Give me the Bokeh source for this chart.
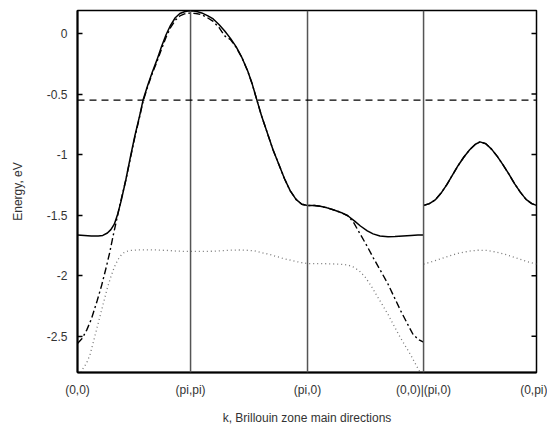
import numpy as np
from bokeh.plotting import figure
from bokeh.models import Span, FixedTicker, Range1d
from bokeh.embed import file_html
from bokeh.resources import INLINE

NAN = float("nan")

# High-symmetry points along the k-path
k_ticks = [0.0, 0.983, 2.0, 3.009, 3.991]
k_labels = ["(0,0)", "(pi,pi)", "(pi,0)", "(0,0)|(pi,0)", "(0,pi)"]
sep_lines = [0.983, 2.0, 3.009]

e_ticks = [0.0, -0.5, -1.0, -1.5, -2.0, -2.5]
e_labels = ["0", "-0.5", "-1", "-1.5", "-2", "-2.5"]

fermi_level = -0.55

# Band 1: solid
solid_k = [0.00, 0.06, 0.12, 0.18, 0.22, 0.26, 0.29, 0.32, 0.35, 0.38, 0.42, 0.46, 0.50, 0.54, 0.57,
           0.61, 0.65, 0.69, 0.73, 0.77, 0.81, 0.85, 0.89, 0.93, 0.96, 0.983,
           1.03, 1.08, 1.13, 1.18, 1.23, 1.28, 1.33, 1.38, 1.43, 1.48, 1.52, 1.56, 1.60, 1.65,
           1.70, 1.75, 1.80, 1.85, 1.90, 1.95, 2.00,
           2.06, 2.11, 2.17, 2.23, 2.29, 2.35, 2.41, 2.46, 2.52, 2.57, 2.63, 2.70, 2.76, 2.83,
           2.90, 2.96, 3.009, NAN,
           3.009, 3.06, 3.11, 3.16, 3.21, 3.26, 3.31, 3.36, 3.41, 3.46, 3.50, 3.55, 3.60, 3.65,
           3.70, 3.75, 3.80, 3.85, 3.90, 3.95, 3.991]
solid_e = [-1.665, -1.668, -1.672, -1.673, -1.668, -1.648, -1.62, -1.575, -1.49, -1.38, -1.21, -1.02,
           -0.84, -0.68, -0.55, -0.43, -0.32, -0.22, -0.11, -0.01, 0.07, 0.13, 0.165, 0.18, 0.186, 0.187,
           0.183, 0.17, 0.148, 0.12, 0.075, 0.02, -0.04, -0.11, -0.20, -0.31, -0.42, -0.55, -0.68, -0.82,
           -0.96, -1.08, -1.20, -1.30, -1.37, -1.41, -1.42,
           -1.421, -1.427, -1.44, -1.458, -1.478, -1.505, -1.55, -1.59, -1.63, -1.655, -1.672, -1.678,
           -1.676, -1.672, -1.668, -1.665, -1.664, NAN,
           -1.42, -1.405, -1.375, -1.32, -1.25, -1.17, -1.09, -1.02, -0.96, -0.915, -0.895, -0.91,
           -0.955, -1.015, -1.085, -1.16, -1.24, -1.31, -1.37, -1.405, -1.42]

# Band 2: dash-dot
dashed_k = [0.00, 0.04, 0.08, 0.12, 0.17, 0.21, 0.25, 0.28, 0.31, 0.34, 0.37, 0.38, 0.42, 0.46, 0.50,
            0.54, 0.57, 0.61, 0.65, 0.69, 0.73, 0.77, 0.81, 0.85, 0.89, 0.93, 0.96, 0.983,
            1.03, 1.08, 1.13, 1.18, 1.23, 1.28, 1.33, 1.38, 1.43, 1.48, 1.52, 1.56, 1.60, 1.65,
            1.70, 1.75, 1.80, 1.85, 1.90, 1.95, 2.00,
            2.06, 2.11, 2.17, 2.23, 2.29, 2.35, 2.40, 2.46, 2.52, 2.57, 2.63, 2.70, 2.76, 2.81,
            2.87, 2.92, 2.97, 3.009, NAN,
            3.009, 3.06, 3.11, 3.16, 3.21, 3.26, 3.31, 3.36, 3.41, 3.46, 3.50, 3.55, 3.60, 3.65,
            3.70, 3.75, 3.80, 3.85, 3.90, 3.95, 3.991]
dashed_e = [-2.56, -2.52, -2.45, -2.36, -2.21, -2.08, -1.93, -1.81, -1.67, -1.54, -1.41, -1.37, -1.21,
            -1.03, -0.85, -0.69, -0.56, -0.44, -0.33, -0.235, -0.13, -0.03, 0.05, 0.11, 0.145, 0.162,
            0.167, 0.168,
            0.165, 0.155, 0.13, 0.10, 0.05, -0.02, -0.05, -0.115, -0.20, -0.31, -0.42, -0.55, -0.68,
            -0.82, -0.96, -1.08, -1.20, -1.30, -1.37, -1.41, -1.42,
            -1.421, -1.427, -1.44, -1.458, -1.478, -1.505, -1.56, -1.66, -1.76, -1.85, -1.95, -2.07,
            -2.19, -2.29, -2.40, -2.49, -2.53, -2.55, NAN,
            -1.42, -1.405, -1.375, -1.32, -1.25, -1.17, -1.09, -1.02, -0.96, -0.915, -0.895, -0.91,
            -0.955, -1.015, -1.085, -1.16, -1.24, -1.31, -1.37, -1.405, -1.42]

# Band 3: dotted
dotted_k = [0.00, 0.04, 0.08, 0.11, 0.14, 0.17, 0.20, 0.23, 0.26, 0.29, 0.32, 0.35, 0.38, 0.41, 0.45,
            0.52, 0.60, 0.69, 0.78, 0.86, 0.93, 0.983,
            1.05, 1.12, 1.18, 1.25, 1.32, 1.40, 1.47, 1.54, 1.60, 1.67, 1.73, 1.78, 1.84, 1.90, 1.95, 2.00,
            2.07, 2.14, 2.21, 2.28, 2.35, 2.40, 2.45, 2.50, 2.55, 2.60, 2.65, 2.70, 2.75, 2.80, 2.85,
            2.90, 2.95, 3.009, NAN,
            3.009, 3.08, 3.16, 3.24, 3.32, 3.40, 3.48, 3.56, 3.64, 3.72, 3.80, 3.88, 3.94, 3.991]
dotted_e = [-2.86, -2.78, -2.72, -2.65, -2.54, -2.43, -2.32, -2.21, -2.10, -2.01, -1.93, -1.87, -1.83,
            -1.805, -1.793, -1.788, -1.787, -1.788, -1.792, -1.797, -1.80, -1.80,
            -1.80, -1.80, -1.798, -1.794, -1.79, -1.788, -1.79, -1.795, -1.81, -1.825, -1.842, -1.856,
            -1.87, -1.883, -1.893, -1.90,
            -1.90, -1.901, -1.903, -1.905, -1.912, -1.93, -1.96, -2.01, -2.08, -2.16, -2.24, -2.32,
            -2.41, -2.50, -2.58, -2.66, -2.75, -2.85, NAN,
            -1.905, -1.885, -1.86, -1.835, -1.813, -1.798, -1.79, -1.792, -1.805, -1.825, -1.85,
            -1.875, -1.893, -1.905]

FONT = "Liberation Sans"
TXT = "#333333"

p = figure(width=547, height=428, output_backend="svg", toolbar_location=None,
           x_range=Range1d(k_ticks[0], k_ticks[-1]), y_range=Range1d(-2.8, 0.19),
           min_border_left=77, min_border_right=11, min_border_top=10, min_border_bottom=56,
           x_axis_label="k, Brillouin zone main directions", y_axis_label="Energy, eV")

p.grid.visible = False
p.outline_line_color = "black"
p.outline_line_width = 1.5
p.background_fill_color = "white"
p.border_fill_color = "white"

# x axis
p.xaxis.ticker = FixedTicker(ticks=k_ticks)
p.xaxis.major_label_overrides = {k: lab for k, lab in zip(k_ticks, k_labels)}
p.xaxis.major_tick_in = 0
p.xaxis.major_tick_out = 0
p.xaxis.minor_tick_in = 0
p.xaxis.minor_tick_out = 0
p.xaxis.major_label_standoff = 10
p.xaxis.axis_label_standoff = 11
p.xaxis.axis_line_width = 2

# y axis
p.yaxis.ticker = FixedTicker(ticks=e_ticks)
p.yaxis.major_label_overrides = {v: lab for v, lab in zip(e_ticks, e_labels)}
p.yaxis.major_tick_in = 5
p.yaxis.major_tick_out = 0
p.yaxis.minor_tick_in = 0
p.yaxis.minor_tick_out = 0
p.yaxis.major_label_standoff = 10
p.yaxis.axis_label_standoff = 19
p.yaxis.axis_line_width = 2

for ax in (p.xaxis[0], p.yaxis[0]):
    ax.major_label_text_font = FONT
    ax.major_label_text_font_size = "12px"
    ax.major_label_text_color = TXT
    ax.axis_label_text_font = FONT
    ax.axis_label_text_font_size = "12px"
    ax.axis_label_text_font_style = "normal"
    ax.axis_label_text_color = TXT
    ax.major_tick_line_width = 1.5

# mirrored inward ticks on the right frame edge
p.ray(x=[k_ticks[-1]] * len(e_ticks), y=e_ticks, length=5, length_units="screen",
      angle=np.pi, line_color="black", line_width=1.5)

for x in sep_lines:
    p.add_layout(Span(location=x, dimension="height", line_color="#555555", line_width=1.5))

p.add_layout(Span(location=fermi_level, dimension="width", line_color="black",
                  line_width=1.3, line_dash="7 5"))

p.line(dotted_k, dotted_e, line_color="#777777", line_width=1.3, line_dash="1 3")
p.line(dashed_k, dashed_e, line_color="black", line_width=1.4, line_dash="7 3 2 3")
p.line(solid_k, solid_e, line_color="black", line_width=1.5)

open("out.html", "w").write(file_html(p, INLINE))
